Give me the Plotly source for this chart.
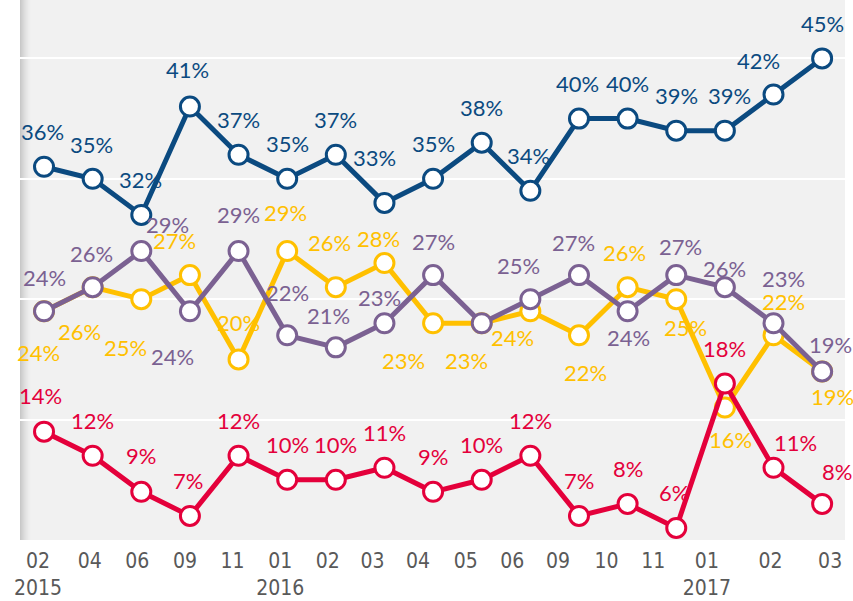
import plotly.graph_objects as go

# ---- data ----
months = ["02", "04", "06", "09", "11", "01", "02", "03", "04", "05", "06", "09", "10", "11", "01", "02", "03"]
years = ["2015", "", "", "", "", "2016", "", "", "", "", "", "", "", "", "2017", "", ""]
blue = [36, 35, 32, 41, 37, 35, 37, 33, 35, 38, 34, 40, 40, 39, 39, 42, 45]
yellow = [24, 26, 25, 27, 20, 29, 26, 28, 23, 23, 24, 22, 26, 25, 16, 22, 19]
purple = [24, 26, 29, 24, 29, 22, 21, 23, 27, 23, 25, 27, 24, 27, 26, 23, 19]
red = [14, 12, 9, 7, 12, 10, 10, 11, 9, 10, 12, 7, 8, 6, 18, 11, 8]

# ---- styles ----
C_BLUE = "#0b4a80"
C_YELLOW = "#ffc000"
C_PURPLE = "#7b6192"
C_RED = "#e4003b"

# label offsets in pixels (dx, dy; dy positive = down), None = hidden
D = (0, -35)
off_blue = [(-2, -35), (-1, -34), (-1, -35), (-2, -37), D, D, D, (-10, -45), D, D, (-2, -35),
            (-1, -35), D, D, (5, -35), (-15, -34), D]
off_yellow = [(-6, 41), (-13, 44), (-16, 48), (-15, -35), (0, -37), (-2, -39), (-6, -45), (-6, -25),
              (-30, 37), (-15, 37), (-18, 26), (7, 37), (-3, -35), (9, 28), (6, 32), (10, -34), (10, 25)]
off_purple = [(0, -34), (-1, -34), (26, -27), (-17, 45), (0, -37), (0, -43), (-7, -32), (-5, -26),
              (0, -34), None, (-12, -34), (-5, -33), (1, 26), (4, -29), (0, -19), (10, -45), (8, -27)]
off_red = [(-4, -36), D, (0, -36), (-2, -35), D, D, D, D, D, D, D, D, D, (-2, -35), D, (22, -25), (15, -32)]

# tick label horizontal shifts in pixels relative to the points
tick_shift_px = [-6, -3, -4, -5, -6, -7, -8, -12, -15, -16, -18, -21, -21, -23, -18, -3, 8]

PX_PER_UNIT = 48.625
x = list(range(len(months)))

fig = go.Figure()

series = [
    (yellow, C_YELLOW, off_yellow),
    (purple, C_PURPLE, off_purple),
    (red, C_RED, off_red),
    (blue, C_BLUE, off_blue),
]

annotations = []
for vals, col, offs in series:
    fig.add_trace(go.Scatter(
        x=x, y=vals, mode="lines+markers",
        line=dict(color=col, width=5),
        marker=dict(size=19, color="white", line=dict(color=col, width=3)),
        hoverinfo="skip", showlegend=False,
    ))
    for i, v in enumerate(vals):
        o = offs[i]
        if o is None:
            continue
        annotations.append(dict(
            x=i, y=v, xref="x", yref="y", text=f"{v}%", showarrow=False,
            xshift=o[0], yshift=-o[1], xanchor="center", yanchor="middle",
            font=dict(family="Lato", size=22, color=col),
        ))

# left-edge shadow
shapes = []
PLOT_W = 825
for k in range(11):
    shapes.append(dict(
        type="rect", xref="paper", yref="paper",
        x0=k / PLOT_W, x1=(k + 1) / PLOT_W, y0=0, y1=1,
        fillcolor="black", opacity=0.17 * (1 - k / 11) ** 1.6,
        line=dict(width=0), layer="below",
    ))

ticktext = [m if y == "" else f"{m}<br>{y}" for m, y in zip(months, years)]
tickvals = [i + s / PX_PER_UNIT for i, s in zip(x, tick_shift_px)]

fig.update_layout(
    width=853, height=601,
    margin=dict(l=20, r=8, t=0, b=61),
    paper_bgcolor="white",
    plot_bgcolor="#f1f1f1",
    annotations=annotations,
    shapes=shapes,
    xaxis=dict(
        range=[-0.494, 16.47], tickmode="array", tickvals=tickvals, ticktext=ticktext,
        showgrid=False, zeroline=False, showline=False, ticks="",
        ticklabelstandoff=6, automargin=False,
        tickfont=dict(family="DejaVu Sans Condensed", size=21, color="#595959"),
        fixedrange=True,
    ),
    yaxis=dict(
        range=[5, 49.85], tickmode="array", tickvals=[15, 25, 35, 45],
        showticklabels=False, showgrid=True, gridcolor="white", gridwidth=2,
        zeroline=False, showline=False, ticks="", fixedrange=True, automargin=False,
    ),
)

fig.write_html(
    "out.html",
    config={"displayModeBar": False, "staticPlot": True},
    post_script="document.body.style.margin='0';document.body.style.overflow='hidden';",
)
